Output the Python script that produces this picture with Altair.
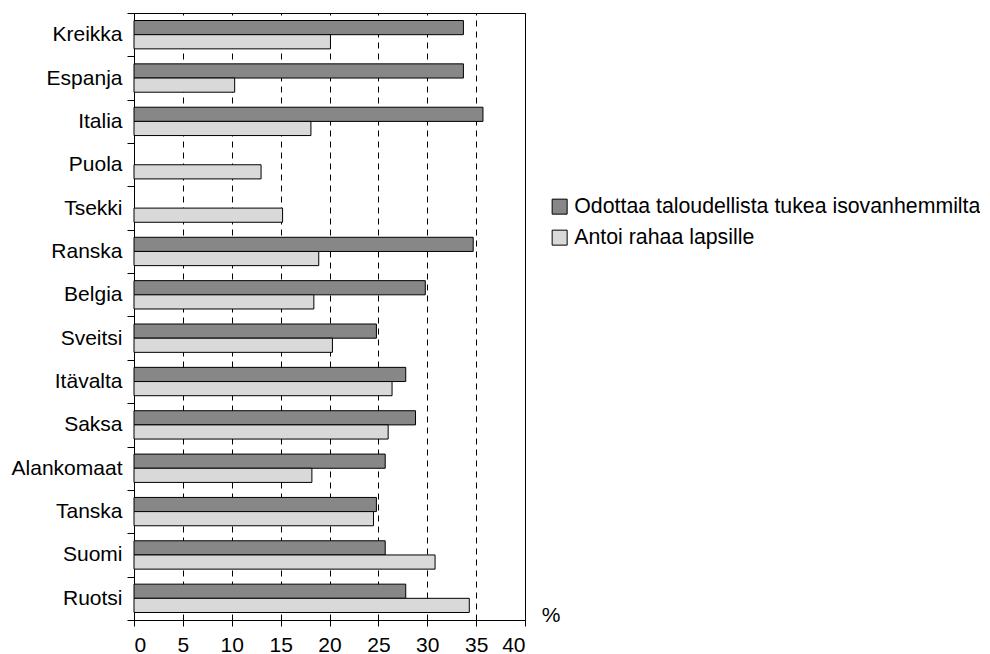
import altair as alt
import pandas as pd

countries = ["Kreikka", "Espanja", "Italia", "Puola", "Tsekki", "Ranska", "Belgia",
             "Sveitsi", "Itävalta", "Saksa", "Alankomaat", "Tanska", "Suomi", "Ruotsi"]
series_names = ["Odottaa taloudellista tukea isovanhemmilta", "Antoi rahaa lapsille"]
odottaa = [33.7, 33.7, 35.7, None, None, 34.7, 29.8, 24.8, 27.8, 28.8, 25.7, 24.8, 25.7, 27.8]
antoi = [20.1, 10.3, 18.1, 13.0, 15.2, 18.9, 18.4, 20.3, 26.4, 26.0, 18.2, 24.5, 30.8, 34.3]
x_ticks = [0, 5, 10, 15, 20, 25, 30, 35, 40]
colors = ["#878787", "#d9d9d9"]

rows = []
for c, a, b in zip(countries, odottaa, antoi):
    if a is not None:
        rows.append({"Maa": c, "Sarja": series_names[0], "Arvo": a})
    if b is not None:
        rows.append({"Maa": c, "Sarja": series_names[1], "Arvo": b})
df = pd.DataFrame(rows)

W, H = 391, 607
FONT = "Liberation Sans"
FS = 21

chart = alt.Chart(df).mark_bar(stroke="black", strokeWidth=1).encode(
    y=alt.Y("Maa:N", sort=countries,
            scale=alt.Scale(paddingInner=0, paddingOuter=0),
            axis=alt.Axis(title=None, tickBand="extent",
                          tickSize=7, tickColor="black", domainColor="black",
                          labelFontSize=FS, labelColor="black", labelPadding=5,
                          labelFont=FONT)),
    yOffset=alt.YOffset("Sarja:N", sort=series_names,
                        scale=alt.Scale(paddingInner=0, paddingOuter=0.53)),
    x=alt.X("Arvo:Q", scale=alt.Scale(domain=[0, 40], nice=False),
            axis=alt.Axis(title="%", values=x_ticks, grid=True, gridDash=[6, 5],
                          gridColor="black", gridWidth=1, tickSize=6, tickColor="black",
                          domainColor="black", labelFontSize=FS, labelColor="black",
                          labelFont=FONT, labelPadding=8,
                          titleFontSize=FS, titleFontWeight="normal", titleFont=FONT,
                          titleColor="black", titleX=416.7, titleY=-4.5,
                          titleAlign="center", titleBaseline="middle", titleAngle=0)),
    color=alt.Color("Sarja:N", sort=series_names,
                    scale=alt.Scale(domain=series_names, range=colors),
                    legend=alt.Legend(title=None, orient="none", legendX=415, legendY=183,
                                      symbolType="square", symbolSize=225,
                                      symbolStrokeColor="black", symbolStrokeWidth=1,
                                      symbolOpacity=1, labelLimit=600,
                                      labelFontSize=21.3, labelFont=FONT, labelColor="black",
                                      labelOffset=4, rowPadding=9)),
).properties(
    width=W, height=H,
    autosize=alt.AutoSizeParams(type="none"),
    padding={"left": 126, "top": 5, "right": 455, "bottom": 36},
).configure(font=FONT).configure_view(
    stroke="black", strokeWidth=1
)

chart.save("out.html", embed_options={"renderer": "svg", "actions": False})
